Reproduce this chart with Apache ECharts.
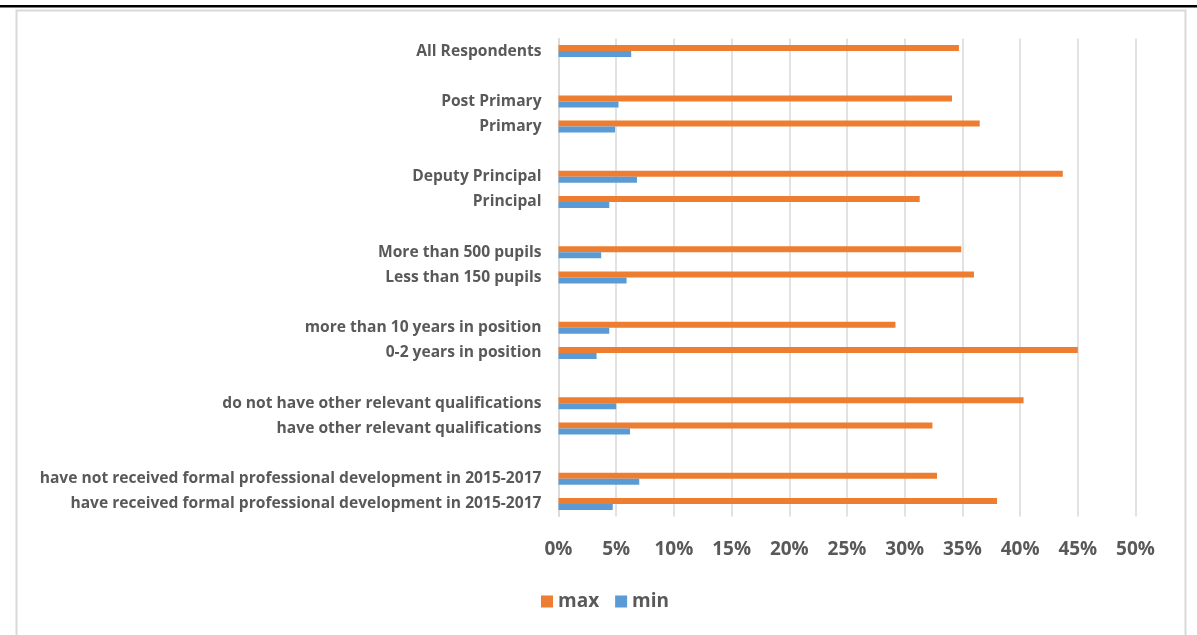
<!DOCTYPE html>
<html>
<head>
<meta charset="utf-8">
<script src="https://cdn.jsdelivr.net/npm/echarts@6/dist/echarts.min.js"></script>
<style>
html,body{margin:0;padding:0;background:#fff;}
#chart{width:1197px;height:635px;}
</style>
</head>
<body>
<div id="chart"></div>
<script>
const categories = [
  'All Respondents', '',
  'Post Primary', 'Primary', '',
  'Deputy Principal', 'Principal', '',
  'More than 500 pupils', 'Less than 150 pupils', '',
  'more than 10 years in position', '0-2 years in position', '',
  'do not have other relevant qualifications', 'have other relevant qualifications', '',
  'have not received formal professional development in 2015-2017',
  'have received formal professional development in 2015-2017'
];
const maxValues = [34.7, null, 34.1, 36.5, null, 43.7, 31.3, null, 34.9, 36.0, null, 29.2, 45.0, null, 40.3, 32.4, null, 32.8, 38.0];
const minValues = [6.3, null, 5.2, 4.9, null, 6.8, 4.4, null, 3.7, 5.9, null, 4.4, 3.3, null, 5.0, 6.2, null, 7.0, 4.7];
const xTicks = { min: 0, max: 50, interval: 5 };

const chart = echarts.init(document.getElementById('chart'));
const textColor = '#595959';
const font = '"Open Sans", "Liberation Sans", sans-serif';
chart.setOption({
  animation: false,
  backgroundColor: '#fff',
  graphic: [
    { type: 'rect', shape: { x: 0, y: 5, width: 1197, height: 2.5 }, style: { fill: '#000' }, silent: true },
    { type: 'rect', shape: { x: 16.5, y: 10.5, width: 1169, height: 640 }, style: { fill: 'none', stroke: '#d9d9d9', lineWidth: 2 }, silent: true }
  ],
  grid: { left: 558.5, right: 61.5, top: 38.5, bottom: 118.5 },
  legend: {
    data: ['max', 'min'],
    left: 536, top: 587,
    icon: 'rect', itemWidth: 12, itemHeight: 12, itemGap: 16,
    textStyle: { color: textColor, fontSize: 19, fontWeight: 700, fontFamily: font }
  },
  xAxis: {
    type: 'value',
    min: xTicks.min, max: xTicks.max, interval: xTicks.interval,
    axisLine: { show: false },
    axisTick: { show: false },
    splitLine: { lineStyle: { color: '#d9d9d9', width: 1.5 } },
    axisLabel: { formatter: '{value}%', color: textColor, fontSize: 19, fontWeight: 700, fontFamily: font, margin: 24 }
  },
  yAxis: {
    type: 'category',
    inverse: true,
    data: categories,
    axisLine: { show: true, lineStyle: { color: '#d9d9d9', width: 1.5 } },
    axisTick: { show: false },
    axisLabel: { interval: 0, color: textColor, fontSize: 15.6, fontWeight: 700, fontFamily: font, margin: 17, padding: [3, 0, 0, 0] }
  },
  series: [
    { name: 'max', type: 'bar', data: maxValues, barWidth: 6, barGap: '0%', itemStyle: { color: '#ED7D31' } },
    { name: 'min', type: 'bar', data: minValues, barWidth: 6, barGap: '0%', itemStyle: { color: '#5B9BD5' } }
  ]
});
</script>
</body>
</html>
